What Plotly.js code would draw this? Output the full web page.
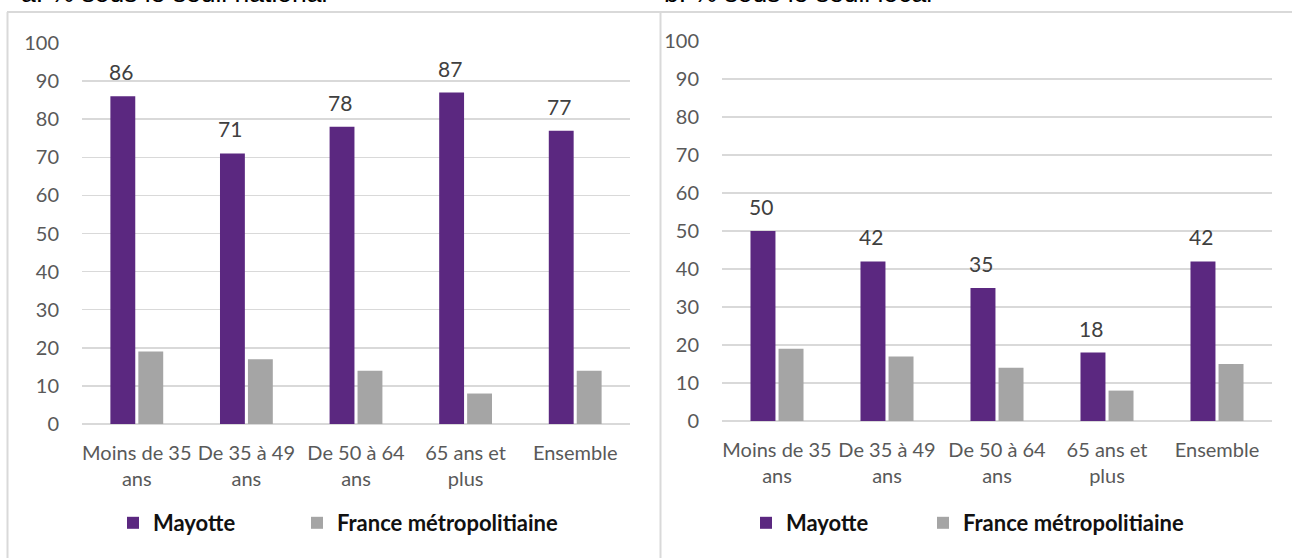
<!DOCTYPE html>
<html>
<head>
<meta charset="utf-8">
<script src="https://cdn.plot.ly/plotly-3.0.1.min.js"></script>
<style>
  html, body { margin: 0; padding: 0; background: #ffffff; }
  #chart { width: 1292px; height: 558px; }
</style>
</head>
<body>
<div id="chart"></div>
<script>
// Age groups (shared by both panels)
const categories = [
  "Moins de 35<br>ans",
  "De 35 à 49<br>ans",
  "De 50 à 64<br>ans",
  "65 ans et<br>plus",
  "Ensemble"
];

// a. % below the national poverty line
const nationalMayotte = [86, 71, 78, 87, 77];
const nationalFrance  = [19, 17, 14, 8, 14];

// b. % below the local poverty line
const localMayotte = [50, 42, 35, 18, 42];
const localFrance  = [19, 17, 14, 8, 15];

const seriesNames = ["Mayotte", "France métropolitiaine"];
const panelTitles = ["a. % sous le seuil national", "b. % sous le seuil local"];

const W = 1292, H = 558;
const px = v => v / W;          // horizontal pixel -> paper fraction
const py = v => 1 - v / H;      // vertical pixel (from top) -> paper fraction

const PURPLE = "#5b2880";
const GREY = "#a5a5a5";
const GRID = "#d9d9d9";
const FONT = "Lato, 'Open Sans', sans-serif";

// each series gets its own legend box so the two entries can sit apart
const traces = [
  { type: "bar", x: categories, y: nationalMayotte, name: seriesNames[0],
    marker: { color: PURPLE }, xaxis: "x", yaxis: "y", legend: "legend", hoverinfo: "y" },
  { type: "bar", x: categories, y: nationalFrance, name: seriesNames[1],
    marker: { color: GREY }, xaxis: "x", yaxis: "y", legend: "legend2", hoverinfo: "y" },
  { type: "bar", x: categories, y: localMayotte, name: seriesNames[0],
    marker: { color: PURPLE }, xaxis: "x2", yaxis: "y2", legend: "legend3", hoverinfo: "y" },
  { type: "bar", x: categories, y: localFrance, name: seriesNames[1],
    marker: { color: GREY }, xaxis: "x2", yaxis: "y2", legend: "legend4", hoverinfo: "y" }
];

// value labels above the Mayotte bars (left bar of each group)
function valueLabels(values, xref, yref) {
  return values.map((v, i) => ({
    xref: xref, yref: yref, x: categories[i], y: v,
    text: String(v), showarrow: false,
    xanchor: "center", yanchor: "bottom",
    xshift: -16, yshift: 10,
    font: { family: FONT, size: 21, color: "#404040" }
  }));
}

const titleFont = { family: "'Liberation Sans', Arial, sans-serif", size: 26.5, color: "#000000" };
const titleAnnotations = [
  { xref: "paper", yref: "paper", x: px(19), y: py(-7), xanchor: "left", yanchor: "middle",
    text: panelTitles[0], showarrow: false, font: titleFont },
  { xref: "paper", yref: "paper", x: px(662), y: py(-7), xanchor: "left", yanchor: "middle",
    text: panelTitles[1], showarrow: false, font: titleFont }
];

const tickFont = { family: FONT, size: 20, color: "#595959" };

function yAxis(domain, anchor) {
  return {
    domain: domain, anchor: anchor, range: [0, 100], dtick: 10,
    showgrid: true, gridcolor: GRID, gridwidth: 1.5,
    zeroline: true, zerolinecolor: GRID, zerolinewidth: 1.5,
    showline: false, ticks: "", tickfont: tickFont, ticklabelstandoff: 22,
    fixedrange: true
  };
}
function xAxis(domain, anchor) {
  return {
    domain: domain, anchor: anchor, type: "category",
    showgrid: false, zeroline: false, showline: false, ticks: "",
    tickfont: tickFont, ticklabelstandoff: 15, tickangle: 0, fixedrange: true
  };
}

const legendFont = { family: FONT, size: 22, color: "#111111", weight: "bold" };
function legendAt(textLeft) {
  // the entry text starts 40px right of the legend's left edge
  return {
    orientation: "h", x: px(textLeft - 40), y: py(523), xanchor: "left", yanchor: "middle",
    font: legendFont, bgcolor: "rgba(0,0,0,0)"
  };
}

const layout = {
  width: W, height: H,
  margin: { l: 0, r: 0, t: 0, b: 0 },
  paper_bgcolor: "#ffffff", plot_bgcolor: "#ffffff",
  barmode: "group", bargap: 0.49, bargroupgap: 0.11,
  xaxis: xAxis([px(82), px(630)], "y"),
  yaxis: yAxis([py(424), py(43)], "x"),
  xaxis2: xAxis([px(722), px(1272)], "y2"),
  yaxis2: yAxis([py(421), py(41)], "x2"),
  legend: legendAt(153),
  legend2: legendAt(337),
  legend3: legendAt(786),
  legend4: legendAt(963),
  showlegend: true,
  annotations: titleAnnotations
    .concat(valueLabels(nationalMayotte, "x", "y"))
    .concat(valueLabels(localMayotte, "x2", "y2")),
  shapes: [
    { type: "line", xref: "paper", yref: "paper", x0: px(7.5), x1: px(7.5), y0: py(12), y1: py(560),
      line: { color: GRID, width: 2 } },
    { type: "line", xref: "paper", yref: "paper", x0: px(660.5), x1: px(660.5), y0: py(12), y1: py(560),
      line: { color: GRID, width: 2 } },
    { type: "line", xref: "paper", yref: "paper", x0: px(7), x1: px(1294), y0: py(12), y1: py(12),
      line: { color: GRID, width: 2 } }
  ]
};

Plotly.newPlot("chart", traces, layout, { displayModeBar: false, staticPlot: true });
</script>
</body>
</html>
